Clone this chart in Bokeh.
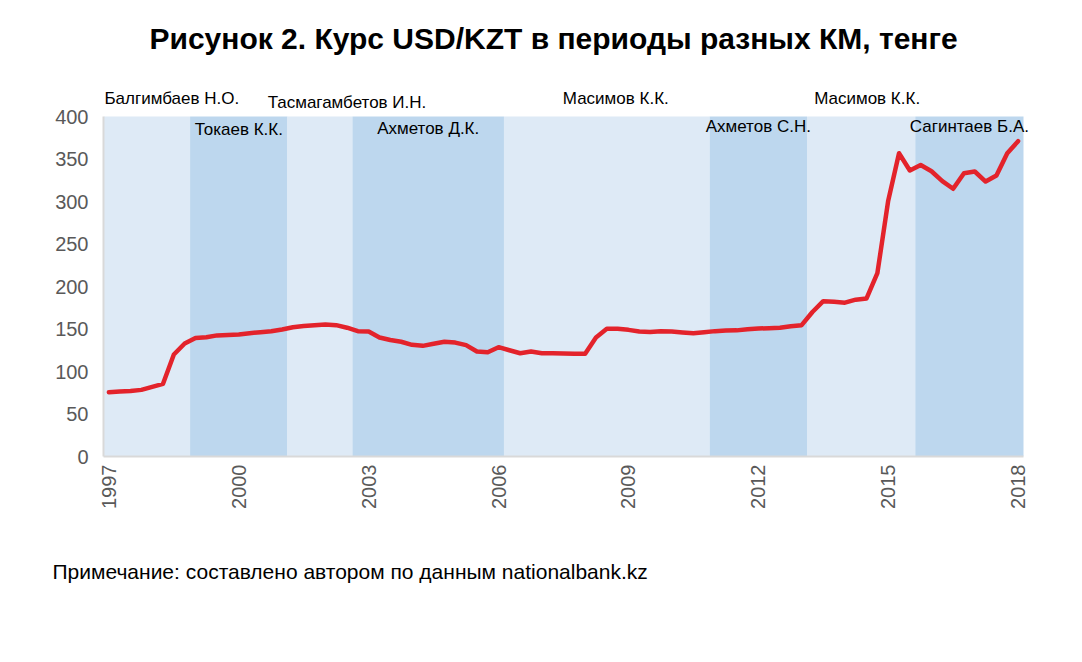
import math
from bokeh.plotting import figure
from bokeh.models import Range1d, FixedTicker, ColumnDataSource, LabelSet, Label, Title
from bokeh.core.properties import value
from bokeh.embed import file_html
from bokeh.resources import INLINE

# ---- data -------------------------------------------------------------
start_year = 1997
# quarterly USD/KZT rate, 1997Q1 .. 2018Q1
usd_kzt = [75.6, 76.5, 77.0, 78.4, 82.0, 85.5, 120.0, 133.0, 139.5, 140.3,
           142.5, 143.0, 143.5, 145.0, 146.3, 147.3, 149.5, 152.0, 153.5, 154.5,
           155.3, 154.5, 151.5, 147.4, 147.0, 140.0, 137.0, 135.0, 131.4, 130.2,
           132.6, 135.0, 134.0, 131.0, 123.5, 122.7, 128.6, 125.0, 121.5, 123.5,
           121.5, 121.5, 121.3, 120.8, 121.0, 140.0, 150.2, 150.2, 149.0, 147.0,
           146.4, 147.4, 147.2, 146.0, 145.0, 146.3, 147.5, 148.2, 148.4, 149.8,
           150.5, 151.0, 151.5, 153.3, 154.5, 170.0, 182.7, 182.0, 181.0, 184.5,
           186.0, 215.7, 301.0, 356.8, 336.5, 343.0, 335.6, 324.0, 315.0, 333.3,
           335.3, 323.5, 330.6, 356.8, 371.0]

pm_names = ["Балгимбаев Н.О.", "Токаев К.К.", "Тасмагамбетов И.Н.", "Ахметов Д.К.",
            "Масимов К.К.", "Ахметов С.Н.", "Масимов К.К.", "Сагинтаев Б.А."]
pm_quarters = [8, 9, 6, 14, 19, 9, 10, 10]

year_ticks = [1997, 2000, 2003, 2006, 2009, 2012, 2015, 2018]
y_ticks = [0, 50, 100, 150, 200, 250, 300, 350, 400]
y_max = 400

title_text = "Рисунок 2. Курс USD/KZT в периоды разных КМ, тенге"
note_text = "Примечание: составлено автором по данным nationalbank.kz"

# ---- derived -----------------------------------------------------------
x = [start_year + i / 4 for i in range(len(usd_kzt))]
lefts, rights = [], []
k = 0
for n in pm_quarters:
    lefts.append(start_year + (k - 0.5) / 4)
    rights.append(start_year + (k + n - 0.5) / 4)
    k += n

LIGHT = "#DEEAF6"
DARK = "#BDD7EE"
FONT = "Liberation Sans"

band_colors = [LIGHT if j % 2 == 0 else DARK for j in range(len(pm_names))]
band_src = ColumnDataSource(dict(left=lefts, right=rights,
                                 bottom=[0] * len(lefts), top=[y_max] * len(lefts),
                                 color=band_colors))

# label layout: light periods above the bands, dark ones inside
lab_y = [421, 385, 417, 386, 421, 388, 421, 388]
lab_dx = [25, 0, 27, 0, 9, 0, 6, 0]
lab_src = ColumnDataSource(dict(x=[(l + r) / 2 for l, r in zip(lefts, rights)],
                                y=lab_y, dx=lab_dx, name=pm_names))

# layout: bands span 920 px; the frame is a little wider on the right (and reaches
# the top of the canvas) so that texts around the bands are not clipped
px_per_year = 920 / (rights[-1] - lefts[0])
pad_right = 17
y_view_top = 536.5
p = figure(width=1074, height=650, output_backend="svg", toolbar_location=None,
           x_range=Range1d(lefts[0], rights[-1] + pad_right / px_per_year),
           y_range=Range1d(0, y_view_top),
           min_border_left=103, min_border_right=51 - pad_right,
           min_border_top=0, min_border_bottom=194)
p.outline_line_color = None
p.grid.visible = False
p.background_fill_color = "white"
p.border_fill_color = "white"

p.quad(left="left", right="right", bottom="bottom", top="top", color="color",
       line_color=None, source=band_src)
p.line(x, usd_kzt, line_color="#E3232B", line_width=4.5, line_join="round",
       line_cap="round")

labels = LabelSet(x="x", y="y", text="name", x_offset="dx", source=lab_src,
                  text_align="center", text_baseline="middle",
                  text_font=value(FONT), text_font_size="17px", text_color="black")
p.add_layout(labels)

for ax in (p.xaxis[0], p.yaxis[0]):
    ax.axis_line_color = "#D9D9D9"
    ax.axis_line_width = 2
    ax.major_tick_line_color = None
    ax.minor_tick_line_color = None
    ax.major_tick_out = 0
    ax.major_tick_in = 0
    ax.major_label_text_font = FONT
    ax.major_label_text_font_size = "20px"
    ax.major_label_text_color = "#595959"

p.xaxis.ticker = FixedTicker(ticks=year_ticks)
p.xaxis.bounds = (lefts[0], rights[-1])
p.xaxis.major_label_orientation = math.pi / 2
p.xaxis.major_label_standoff = 8
p.yaxis.ticker = FixedTicker(ticks=y_ticks)
p.yaxis.bounds = (0, y_max)
p.yaxis.major_label_standoff = 15

title = Label(x=(lefts[0] + rights[-1]) / 2 - 0.23, y=492, text=title_text,
              text_align="center", text_baseline="middle", text_font=FONT,
              text_font_style="bold", text_font_size="30px", text_color="black")
p.add_layout(title)

note = Title(text=note_text, align="left", offset=52 - 103, standoff=93,
             text_font=FONT, text_font_size="21px", text_font_style="normal",
             text_color="black")
p.add_layout(note, "below")

open("out.html", "w").write(file_html(p, INLINE))
